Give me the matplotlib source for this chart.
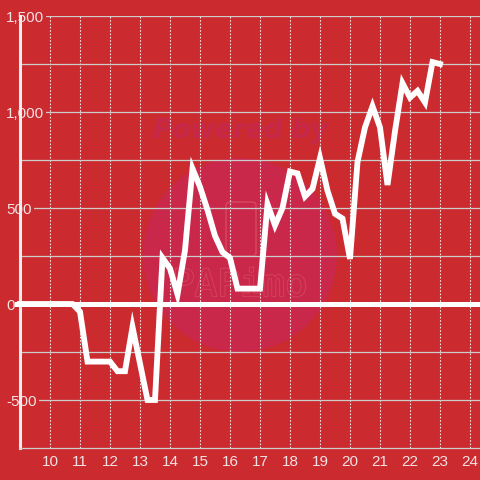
import matplotlib
matplotlib.use("Agg")
import matplotlib.pyplot as plt
import matplotlib.patheffects as pe
from matplotlib.patches import Circle, FancyBboxPatch

# donnees
heures = [9.0, 9.25, 9.5, 9.75, 10.0, 10.25, 10.5, 10.75,
          11.0, 11.25, 11.5, 11.75, 12.0, 12.25, 12.5, 12.75,
          13.0, 13.25, 13.5, 13.75, 14.0, 14.25, 14.5, 14.75,
          15.0, 15.25, 15.5, 15.75, 16.0, 16.25, 16.5, 16.75,
          17.0, 17.25, 17.5, 17.75, 18.0, 18.25, 18.5, 18.75,
          19.0, 19.25, 19.5, 19.75, 20.0, 20.25, 20.5, 20.75,
          21.0, 21.25, 21.5, 21.75, 22.0, 22.25, 22.5, 22.75, 23.0]
valeurs = [0, 0, 0, 0, 0, 0, 0, 0,
           -40, -300, -300, -300, -300, -350, -350, -120,
           -310, -500, -500, 240, 185, 50, 280, 705,
           610, 490, 355, 270, 240, 80, 80, 80,
           80, 520, 410, 500, 690, 680, 560, 600,
           760, 590, 470, 445, 235, 740, 920, 1030,
           920, 620, 900, 1150, 1075, 1110, 1050, 1260, 1250]

xticks = [10, 11, 12, 13, 14, 15, 16, 17, 18, 19, 20, 21, 22, 23, 24]
yticks = [-500, 0, 500, 1000, 1500]
ylabels = ["-500", "0", "500", "1,000", "1,500"]
yminor = [-250, 250, 750, 1250]

fond = "#cb2a2f"
texte = "#f2e2e2"
plt.rcParams['font.family'] = ['Liberation Sans', 'DejaVu Sans']

fig = plt.figure(figsize=(4.8, 4.8), dpi=100, facecolor=fond)
ax = fig.add_axes([20/480, 32/480, 460/480, 432/480])
ax.set_facecolor(fond)

# filigrane
ax.add_patch(Circle((240/480, 1 - 255/480), 97/480, transform=fig.transFigure,
                    facecolor="#c9284a", edgecolor="none", zorder=0, clip_on=False))
ax.add_patch(FancyBboxPatch((226/480, 1 - 256/480), 30/480, 54/480, transform=fig.transFigure,
                            boxstyle="round,pad=0,rounding_size=0.008", facecolor="none",
                            edgecolor="#d4445c", lw=1.2, zorder=0, clip_on=False))
ax.text(240/480, 1 - 131/480, "Powered by", transform=fig.transFigure, ha="center", va="center",
        fontsize=19, fontweight="bold", fontstyle="italic", color="#c6284a", zorder=0,
        family="DejaVu Sans")
ax.text(240/480, 1 - 286/480, "PAPimo", transform=fig.transFigure, ha="center", va="center",
        fontsize=27, color="#c9284a", zorder=0, family="DejaVu Sans Mono",
        path_effects=[pe.Stroke(linewidth=1.3, foreground="#d4445c"), pe.Normal()])

ax.set_xlim(9, 24 + 1/3)
ax.set_ylim(-750, 1500)

ax.set_xticks(xticks)
ax.set_yticks(yticks)
ax.set_yticklabels(ylabels)
ax.set_yticks(yminor, minor=True)

ax.grid(axis="y", which="both", color="#cccccc", lw=0.9)
ax.grid(axis="x", which="major", color="#f2e2e2", lw=0.8, ls=(0, (1.5, 1.5)))

for s in ["top", "right"]:
    ax.spines[s].set_visible(False)
ax.spines["left"].set_color("#eeeeee")
ax.spines["left"].set_linewidth(2.2)
ax.spines["bottom"].set_color("#cccccc")
ax.spines["bottom"].set_linewidth(0.9)

ax.tick_params(axis="both", which="both", length=0, colors=texte, labelsize=11)
ax.tick_params(axis="x", pad=5)
ax.tick_params(axis="y", pad=10)
for lbl in ax.get_yticklabels():
    lbl.set_horizontalalignment("left")
    lbl.set_bbox(dict(facecolor=fond, edgecolor="none", pad=1.5))

ax.axhline(0, xmin=-3/460, xmax=1, color="white", lw=3.6, clip_on=False, zorder=3)
ax.plot(heures, valeurs, color="white", lw=4.2, solid_capstyle="projecting",
        solid_joinstyle="miter", clip_on=False, zorder=4)

fig.savefig("out.png", dpi=100, facecolor=fond)
